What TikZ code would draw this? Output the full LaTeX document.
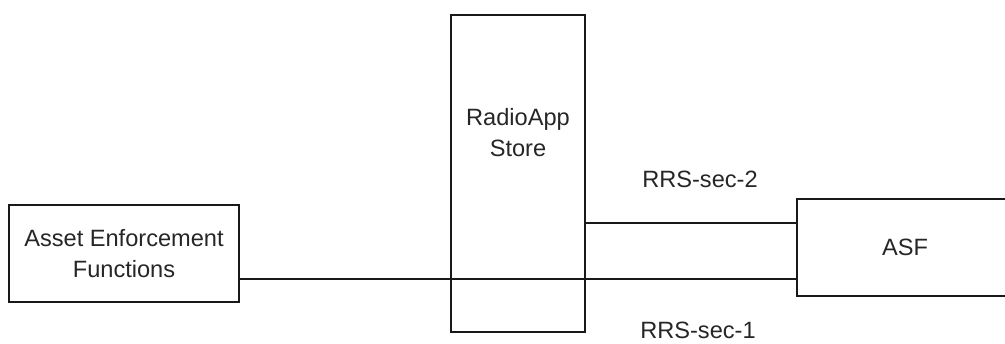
\documentclass[tikz,border=0pt]{standalone}
\usepackage{fontspec}
\setmainfont{Liberation Sans}
\usetikzlibrary{positioning}

\begin{document}
\begin{tikzpicture}[
    x=0.5pt, y=-0.5pt,
    block/.style={rectangle, draw=black!90, line width=0.7pt, inner sep=0pt,
        minimum width=#1, align=center, font=\fontsize{11.8}{15.5}\selectfont, text=black!85},
    link/.style={draw=black!90, line width=0.7pt},
    tag/.style={font=\fontsize{11.8}{15.5}\selectfont, text=black!85, inner sep=0pt},
]
\useasboundingbox (0,0) rectangle (1005,343);

% Boxes
\node[block=115pt, minimum height=48.5pt] (aef) at (124,253.5) {Asset Enforcement\\Functions};
\node[block=67pt, minimum height=158.5pt] (store) at (518,173.5) {};
\node[tag, align=center] (storetxt) at (518,133) {RadioApp\\Store};
\node[block=108pt, minimum height=48.5pt] (asf) at (905,247.5) {ASF};

% Connections
\coordinate (p2) at (store.east |- 0,223);
\coordinate (p1) at (aef.east |- 0,279);
\draw[link] (p1) -- (p1 -| asf.west);
\draw[link] (p2) -- (p2 -| asf.west);

% Link labels
\node[tag] (sec2) at (700,179) {RRS-sec-2};
\node[tag] (sec1) at (698,330) {RRS-sec-1};

\end{tikzpicture}
\end{document}
